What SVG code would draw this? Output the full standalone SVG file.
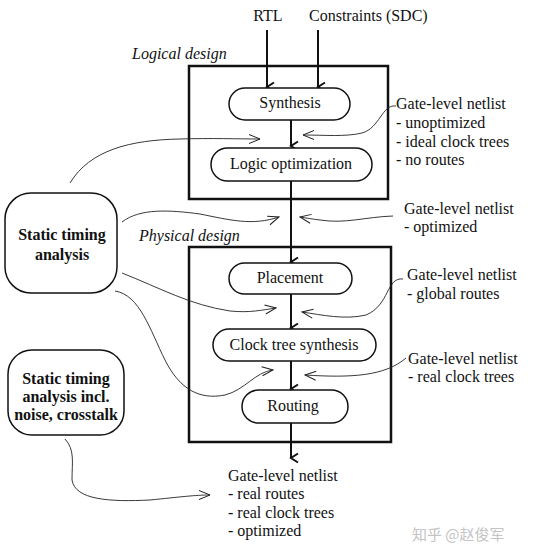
<svg xmlns="http://www.w3.org/2000/svg" width="550" height="557" viewBox="0 0 550 557" font-family="'Liberation Serif', 'DejaVu Serif', serif">
<defs>
<style>
text{font-family:'Liberation Serif','DejaVu Serif',serif;font-size:16px;fill:#111}
.it{font-style:italic}
.b{font-weight:bold}
.c{text-anchor:middle}
.box{fill:none;stroke:#111;stroke-width:2.5}
.pill{fill:#fff;stroke:#111;stroke-width:1.5}
.main{fill:none;stroke:#111;stroke-width:2}
.thin{fill:none;stroke:#222;stroke-width:0.9}
.wm{font-family:'Noto Sans CJK SC','Noto Sans',sans-serif;font-size:15px;fill:#c4c4c4}
</style>
<marker id="ah" viewBox="0 0 12 12" refX="6" refY="10" markerWidth="12" markerHeight="12" markerUnits="userSpaceOnUse" orient="auto-start-reverse">
<path d="M1.5,3 L6,10 L10.5,3" fill="none" stroke="#111" stroke-width="2"/>
</marker>
<marker id="th" viewBox="0 0 14 12" refX="13" refY="6" markerWidth="14" markerHeight="12" markerUnits="userSpaceOnUse" orient="auto">
<path d="M2,1.5 L13,6 L2,10.5" fill="none" stroke="#222" stroke-width="1"/>
</marker>
</defs>
<rect width="550" height="557" fill="#fff"/>

<g id="inputs">
<text x="268" y="21" class="c">RTL</text>
<text x="309" y="21">Constraints (SDC)</text>
</g>

<g id="logical-design">
<rect x="189" y="66" width="199" height="133" class="box"/>
<text x="132" y="59" class="it">Logical design</text>
</g>
<g id="physical-design">
<rect x="189" y="247" width="202" height="195" class="box"/>
<text x="139" y="241" class="it">Physical design</text>
</g>

<g id="connectors">
<line x1="267" y1="30" x2="267" y2="87" class="main" marker-end="url(#ah)"/>
<line x1="318" y1="30" x2="318" y2="87" class="main" marker-end="url(#ah)"/>
<line x1="291" y1="120" x2="291" y2="146" class="main" marker-end="url(#ah)"/>
<line x1="291" y1="181" x2="291" y2="262" class="main" marker-end="url(#ah)"/>
<line x1="291" y1="294" x2="291" y2="328" class="main" marker-end="url(#ah)"/>
<line x1="291" y1="361" x2="291" y2="389" class="main" marker-end="url(#ah)"/>
<line x1="291" y1="423" x2="291" y2="458" class="main" marker-end="url(#ah)"/>

<path d="M396,106 C382,104 380,128 362,133 C345,137 325,135 303,135" class="thin" marker-end="url(#th)"/>
<path d="M393,216 C365,217 345,224 320,220 C312,219 306,218 300,217" class="thin" marker-end="url(#th)"/>
<path d="M403,279 C386,277 390,305 366,315 C345,320 322,315 302,312" class="thin" marker-end="url(#th)"/>
<path d="M406,358 C385,376 352,378 305,375" class="thin" marker-end="url(#th)"/>

<path d="M70,183 C90,150 130,140 180,139 C210,138 240,139 260,139" class="thin" marker-end="url(#th)"/>
<path d="M122,222 C140,208 170,210 200,214 C230,220 252,226 279,217" class="thin" marker-end="url(#th)"/>
<path d="M122,273 C160,288 190,305 230,311 C250,313 262,310 276,308" class="thin" marker-end="url(#th)"/>
<path d="M115,291 C140,295 150,330 165,360 C180,390 200,400 225,395 C245,390 255,372 273,370" class="thin" marker-end="url(#th)"/>
<path d="M65,439 C75,450 72,462 72,480 C75,500 110,502 150,500 C180,497 195,495 210,495" class="thin" marker-end="url(#th)"/>
</g>

<g id="synthesis">
<rect x="229" y="88" width="121" height="32" rx="16" class="pill"/>
<text x="290" y="108" class="c">Synthesis</text>
</g>
<g id="logic-optimization">
<rect x="211" y="148" width="161" height="33" rx="16.5" class="pill"/>
<text x="291" y="169" class="c">Logic optimization</text>
</g>
<g id="placement">
<rect x="229" y="263" width="123" height="31" rx="15.5" class="pill"/>
<text x="290" y="283" class="c">Placement</text>
</g>
<g id="clock-tree-synthesis">
<rect x="213" y="329" width="163" height="32" rx="16" class="pill"/>
<text x="294" y="350" class="c">Clock tree synthesis</text>
</g>
<g id="routing">
<rect x="242" y="390" width="106" height="33" rx="16.5" class="pill"/>
<text x="293" y="411" class="c">Routing</text>
</g>

<g id="sta">
<rect x="5" y="193" width="112" height="100" rx="26" class="pill"/>
<text x="62" y="240" class="c b">Static timing</text>
<text x="62" y="260" class="c b">analysis</text>
</g>
<g id="sta-noise">
<rect x="8" y="350" width="116" height="85" rx="24" class="pill"/>
<text x="66" y="384" class="c b">Static timing</text>
<text x="66" y="402" class="c b">analysis incl.</text>
<text x="66" y="420" class="c b">noise, crosstalk</text>
</g>

<g id="netlist-unoptimized">
<text x="396" y="109">Gate-level netlist</text>
<text x="396" y="128">- unoptimized</text>
<text x="396" y="147">- ideal clock trees</text>
<text x="396" y="165">- no routes</text>
</g>
<g id="netlist-optimized">
<text x="404" y="214">Gate-level netlist</text>
<text x="404" y="232">- optimized</text>
</g>
<g id="netlist-global-routes">
<text x="407" y="280">Gate-level netlist</text>
<text x="407" y="299">- global routes</text>
</g>
<g id="netlist-real-clock-trees">
<text x="408" y="364">Gate-level netlist</text>
<text x="408" y="382">- real clock trees</text>
</g>
<g id="netlist-final">
<text x="228" y="481">Gate-level netlist</text>
<text x="228" y="499">- real routes</text>
<text x="228" y="518">- real clock trees</text>
<text x="228" y="536">- optimized</text>
</g>

<text x="412" y="540" class="wm">知乎 @赵俊军</text>
</svg>
